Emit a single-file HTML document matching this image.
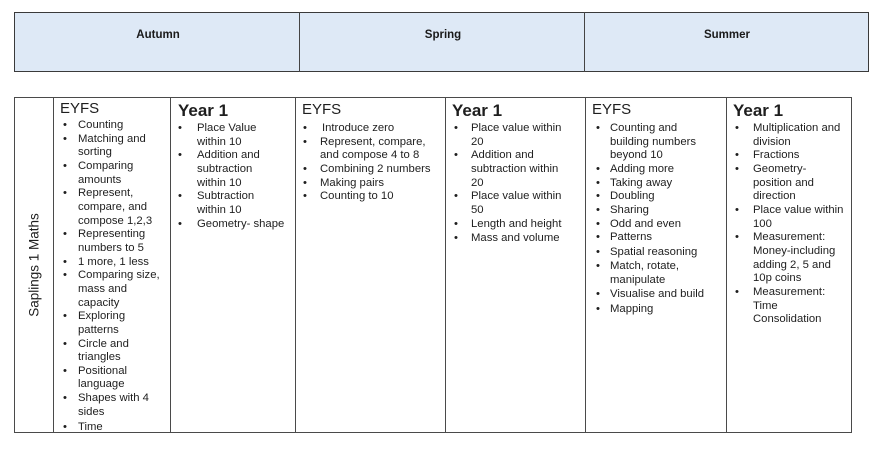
<!DOCTYPE html>
<html>
<head>
<meta charset="utf-8">
<style>
  html,body{margin:0;padding:0;background:#fff;}
  body{width:887px;height:461px;position:relative;overflow:hidden;
       font-family:"Liberation Sans",sans-serif;color:#1e1e1e;}
  .hdr{position:absolute;left:14px;top:12px;width:853px;height:58px;
       background:#dee9f6;border:1.4px solid #3a3a3a;}
  .vl{position:absolute;width:0;border-left:1.3px solid #444;}
  .ht{position:absolute;top:29px;font-size:11.5px;font-weight:bold;color:#1a1a1a;
      transform:translateX(-50%);white-space:nowrap;}
  .tbl{position:absolute;left:14px;top:97px;width:836px;height:334px;
       border:1.2px solid #4a4a4a;}
  .h1{position:absolute;font-size:15px;line-height:15px;white-space:nowrap;}
  .h2{position:absolute;font-size:17px;font-weight:bold;line-height:17px;white-space:nowrap;}
  .col{position:absolute;font-size:11.3px;line-height:13.65px;white-space:nowrap;}
  .col div{position:relative;}
  .b{position:absolute;}
  .rot{position:absolute;left:34px;top:265px;font-size:13.5px;white-space:nowrap;
       transform:translate(-50%,-50%) rotate(-90deg);}
</style>
</head>
<body>
  <div class="hdr"></div>
  <div class="vl" style="left:299px;top:12px;height:60px;"></div>
  <div class="vl" style="left:584px;top:12px;height:60px;"></div>
  <div class="ht" style="left:158px;">Autumn</div>
  <div class="ht" style="left:443px;">Spring</div>
  <div class="ht" style="left:727px;">Summer</div>

  <div class="tbl"></div>
  <div class="vl" style="left:53px;top:97px;height:335px;border-left:1.1px solid #4a4a4a;"></div>
  <div class="vl" style="left:170px;top:97px;height:335px;border-left:1.1px solid #4a4a4a;"></div>
  <div class="vl" style="left:295px;top:97px;height:335px;border-left:1.1px solid #4a4a4a;"></div>
  <div class="vl" style="left:445px;top:97px;height:335px;border-left:1.1px solid #4a4a4a;"></div>
  <div class="vl" style="left:585px;top:97px;height:335px;border-left:1.1px solid #4a4a4a;"></div>
  <div class="vl" style="left:726px;top:97px;height:335px;border-left:1.1px solid #4a4a4a;"></div>

  <div class="rot">Saplings 1 Maths</div>

  <!-- Autumn EYFS -->
  <div class="h1" style="left:60px;top:101px;">EYFS</div>
  <div class="col" style="left:78px;top:119px;">
    <div><span class="b" style="left:-15px">•</span>Counting</div>
    <div><span class="b" style="left:-15px">•</span>Matching and</div>
    <div>sorting</div>
    <div><span class="b" style="left:-15px">•</span>Comparing</div>
    <div>amounts</div>
    <div><span class="b" style="left:-15px">•</span>Represent,</div>
    <div>compare, and</div>
    <div>compose 1,2,3</div>
    <div><span class="b" style="left:-15px">•</span>Representing</div>
    <div>numbers to 5</div>
    <div><span class="b" style="left:-15px">•</span>1 more, 1 less</div>
    <div><span class="b" style="left:-15px">•</span>Comparing size,</div>
    <div>mass and</div>
    <div>capacity</div>
    <div><span class="b" style="left:-15px">•</span>Exploring</div>
    <div>patterns</div>
    <div><span class="b" style="left:-15px">•</span>Circle and</div>
    <div>triangles</div>
    <div><span class="b" style="left:-15px">•</span>Positional</div>
    <div>language</div>
    <div><span class="b" style="left:-15px">•</span>Shapes with 4</div>
    <div>sides</div>
    <div style="top:1.5px"><span class="b" style="left:-15px">•</span>Time</div>
  </div>

  <!-- Autumn Year 1 -->
  <div class="h2" style="left:178px;top:102px;">Year 1</div>
  <div class="col" style="left:197px;top:122px;">
    <div><span class="b" style="left:-19px">•</span>Place Value</div>
    <div>within 10</div>
    <div><span class="b" style="left:-19px">•</span>Addition and</div>
    <div>subtraction</div>
    <div>within 10</div>
    <div><span class="b" style="left:-19px">•</span>Subtraction</div>
    <div>within 10</div>
    <div><span class="b" style="left:-19px">•</span>Geometry- shape</div>
  </div>

  <!-- Spring EYFS -->
  <div class="h1" style="left:302px;top:102px;">EYFS</div>
  <div class="col" style="left:320px;top:122px;">
    <div style="left:2px"><span class="b" style="left:-19px">•</span>Introduce zero</div>
    <div><span class="b" style="left:-17px">•</span>Represent, compare,</div>
    <div>and compose 4 to 8</div>
    <div><span class="b" style="left:-17px">•</span>Combining 2 numbers</div>
    <div><span class="b" style="left:-17px">•</span>Making pairs</div>
    <div><span class="b" style="left:-17px">•</span>Counting to 10</div>
  </div>

  <!-- Spring Year 1 -->
  <div class="h2" style="left:452px;top:102px;">Year 1</div>
  <div class="col" style="left:471px;top:122px;">
    <div><span class="b" style="left:-17px">•</span>Place value within</div>
    <div>20</div>
    <div><span class="b" style="left:-17px">•</span>Addition and</div>
    <div>subtraction within</div>
    <div>20</div>
    <div><span class="b" style="left:-17px">•</span>Place value within</div>
    <div>50</div>
    <div><span class="b" style="left:-17px">•</span>Length and height</div>
    <div style="top:1px"><span class="b" style="left:-17px">•</span>Mass and volume</div>
  </div>

  <!-- Summer EYFS -->
  <div class="h1" style="left:592px;top:102px;">EYFS</div>
  <div class="col" style="left:610px;top:122px;">
    <div><span class="b" style="left:-14px">•</span>Counting and</div>
    <div>building numbers</div>
    <div>beyond 10</div>
    <div><span class="b" style="left:-14px">•</span>Adding more</div>
    <div><span class="b" style="left:-14px">•</span>Taking away</div>
    <div><span class="b" style="left:-14px">•</span>Doubling</div>
    <div><span class="b" style="left:-14px">•</span>Sharing</div>
    <div><span class="b" style="left:-14px">•</span>Odd and even</div>
    <div><span class="b" style="left:-14px">•</span>Patterns</div>
    <div style="top:1px"><span class="b" style="left:-14px">•</span>Spatial reasoning</div>
    <div style="top:1.5px"><span class="b" style="left:-14px">•</span>Match, rotate,</div>
    <div style="top:2px">manipulate</div>
    <div style="top:2.5px"><span class="b" style="left:-14px">•</span>Visualise and build</div>
    <div style="top:3px"><span class="b" style="left:-14px">•</span>Mapping</div>
  </div>

  <!-- Summer Year 1 -->
  <div class="h2" style="left:733px;top:102px;">Year 1</div>
  <div class="col" style="left:753px;top:122px;">
    <div><span class="b" style="left:-18px">•</span>Multiplication and</div>
    <div>division</div>
    <div><span class="b" style="left:-18px">•</span>Fractions</div>
    <div><span class="b" style="left:-18px">•</span>Geometry-</div>
    <div>position and</div>
    <div>direction</div>
    <div><span class="b" style="left:-18px">•</span>Place value within</div>
    <div>100</div>
    <div><span class="b" style="left:-18px">•</span>Measurement:</div>
    <div>Money-including</div>
    <div>adding 2, 5 and</div>
    <div>10p coins</div>
    <div><span class="b" style="left:-18px">•</span>Measurement:</div>
    <div>Time</div>
    <div>Consolidation</div>
  </div>
</body>
</html>
